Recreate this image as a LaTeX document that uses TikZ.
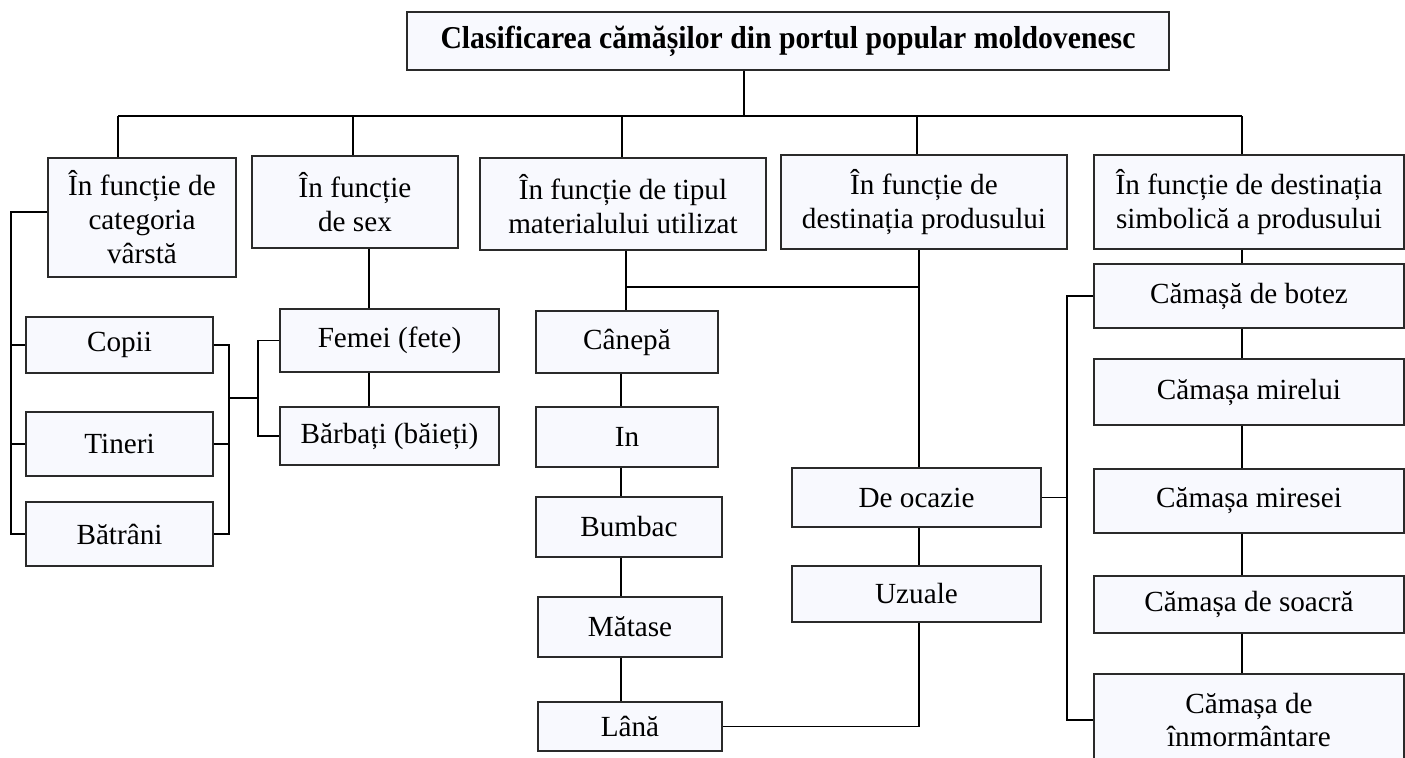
\documentclass[tikz,border=0pt]{standalone}
\usepackage{fontspec}
\setmainfont{Liberation Serif}
\usepackage{graphicx}
\definecolor{boxfill}{HTML}{F8F9FE}
\definecolor{boxline}{HTML}{2A2A2A}
\newcommand{\bxnode}[6]{%
  \pgfmathsetmacro{\bxcx}{(#2+#4)/2}%
  \pgfmathsetmacro{\bxcy}{(#3+#5)/2}%
  \pgfmathsetmacro{\bxww}{(#4-#2)*0.5}%
  \pgfmathsetmacro{\bxhh}{(#5-#3)*0.5}%
  \node[box, minimum width=\bxww pt, minimum height=\bxhh pt] (#1) at (\bxcx,\bxcy) {#6};}
\begin{document}
\begin{tikzpicture}[x=0.5pt,y=-0.5pt,
  box/.style={draw=boxline, fill=boxfill, line width=0.6pt, inner sep=0pt, align=center,
    font=\fontsize{14.6}{17}\selectfont},
  conn/.style={draw=black, line width=0.8pt}]
\useasboundingbox (0,0) rectangle (1405,757);
% title
\bxnode{title}{407}{12}{1169}{70}{\scalebox{1}[1.07]{\fontsize{14.85}{17}\selectfont\bfseries Clasificarea cămășilor din portul popular moldovenesc}}
% level 1
\bxnode{A}{48}{158}{236}{277}{În funcție de\\categoria\\vârstă}
\bxnode{B}{252}{156}{458}{248}{În funcție\\de sex}
\bxnode{C}{480}{158}{766}{250}{În funcție de tipul\\materialului utilizat}
\bxnode{D}{781}{155}{1067}{249}{În funcție de\\destinația produsului}
\bxnode{E}{1094}{155}{1404}{249}{În funcție de destinația\\simbolică a produsului}
% age
\bxnode{Copii}{26}{317}{213}{373}{Copii}
\bxnode{Tin}{26}{412}{213}{476}{Tineri}
\bxnode{Bat}{26}{502}{213}{566}{Bătrâni}
% sex
\bxnode{Fem}{280}{309}{499}{372}{Femei (fete)}
\bxnode{Barb}{280}{407}{499}{465}{Bărbați (băieți)}
% material
\bxnode{Can}{536}{311}{718}{373}{Cânepă}
\bxnode{In}{536}{407}{718}{467}{In}
\bxnode{Bum}{536}{497}{722}{557}{Bumbac}
\bxnode{Mat}{538}{597}{722}{657}{Mătase}
\bxnode{Lana}{538}{702}{722}{751}{Lână}
% destination
\bxnode{Oc}{792}{468}{1041}{527}{De ocazie}
\bxnode{Uz}{792}{566}{1041}{622}{Uzuale}
% symbolic
\bxnode{Bot}{1094}{264}{1404}{328}{Cămașă de botez}
\bxnode{Mir}{1094}{359}{1404}{425}{Cămașa mirelui}
\bxnode{Mrs}{1094}{469}{1404}{533}{Cămașa miresei}
\bxnode{Soa}{1094}{576}{1404}{633}{Cămașa de soacră}
\bxnode{Inm}{1094}{674}{1404}{766}{Cămașa de\\înmormântare}
% coordinates
\coordinate (tstem) at (744,116);
\coordinate (bA) at (118,116);
\coordinate (bB) at (353,116);
\coordinate (bC) at (622,116);
\coordinate (bD) at (917,116);
\coordinate (bE) at (1242,116);
\coordinate (ageL) at (11,212);
\coordinate (ageR) at (229,398);
\coordinate (sexJ) at (258,398);
\coordinate (sx) at (369,0);
\coordinate (mx) at (626,287);
\coordinate (dx) at (919,287);
\coordinate (cx) at (621,0);
\coordinate (ex) at (1242,0);
\coordinate (sbx) at (1067,0);
% connectors
\draw[conn] (title.south -| tstem) -- (tstem);
\draw[conn] (bA) -- (bE);
\draw[conn] (bA) -- (A.north -| bA);
\draw[conn] (bB) -- (B.north -| bB);
\draw[conn] (bC) -- (C.north -| bC);
\draw[conn] (bD) -- (D.north -| bD);
\draw[conn] (bE) -- (E.north -| bE);
% age bracket
\draw[conn] (A.west |- ageL) -- (ageL) -- (ageL |- Bat.west) -- (Bat.west);
\draw[conn] (ageL |- Copii.west) -- (Copii.west);
\draw[conn] (ageL |- Tin.west) -- (Tin.west);
\draw[conn] (Copii.east) -- (Copii.east -| ageR) -- (Bat.east -| ageR) -- (Bat.east);
\draw[conn] (Tin.east) -- (Tin.east -| ageR);
\draw[conn] (ageR) -- (sexJ);
\draw[conn] (Fem.west) -- (Fem.west -| sexJ) -- (Barb.west -| sexJ) -- (Barb.west);
% sex
\draw[conn] (B.south -| sx) -- (Fem.north -| sx);
\draw[conn] (Fem.south -| sx) -- (Barb.north -| sx);
% material
\draw[conn] (C.south -| mx) -- (Can.north -| mx);
\draw[conn] (mx) -- (dx);
\draw[conn] (Can.south -| cx) -- (In.north -| cx);
\draw[conn] (In.south -| cx) -- (Bum.north -| cx);
\draw[conn] (Bum.south -| cx) -- (Mat.north -| cx);
\draw[conn] (Mat.south -| cx) -- (Lana.north -| cx);
% destination
\draw[conn] (D.south -| dx) -- (Oc.north -| dx);
\draw[conn] (Oc.south -| dx) -- (Uz.north -| dx);
\draw[conn] (Uz.south -| dx) -- (dx |- Lana.east) -- (Lana.east);
% symbolic
\draw[conn] (E.south -| ex) -- (Bot.north -| ex);
\draw[conn] (Bot.south -| ex) -- (Mir.north -| ex);
\draw[conn] (Mir.south -| ex) -- (Mrs.north -| ex);
\draw[conn] (Mrs.south -| ex) -- (Soa.north -| ex);
\draw[conn] (Soa.south -| ex) -- (Inm.north -| ex);
\draw[conn] (Bot.west) -- (Bot.west -| sbx) -- (sbx |- Inm.west) -- (Inm.west);
\draw[conn] (Oc.east) -- (Oc.east -| sbx);
\end{tikzpicture}
\end{document}
